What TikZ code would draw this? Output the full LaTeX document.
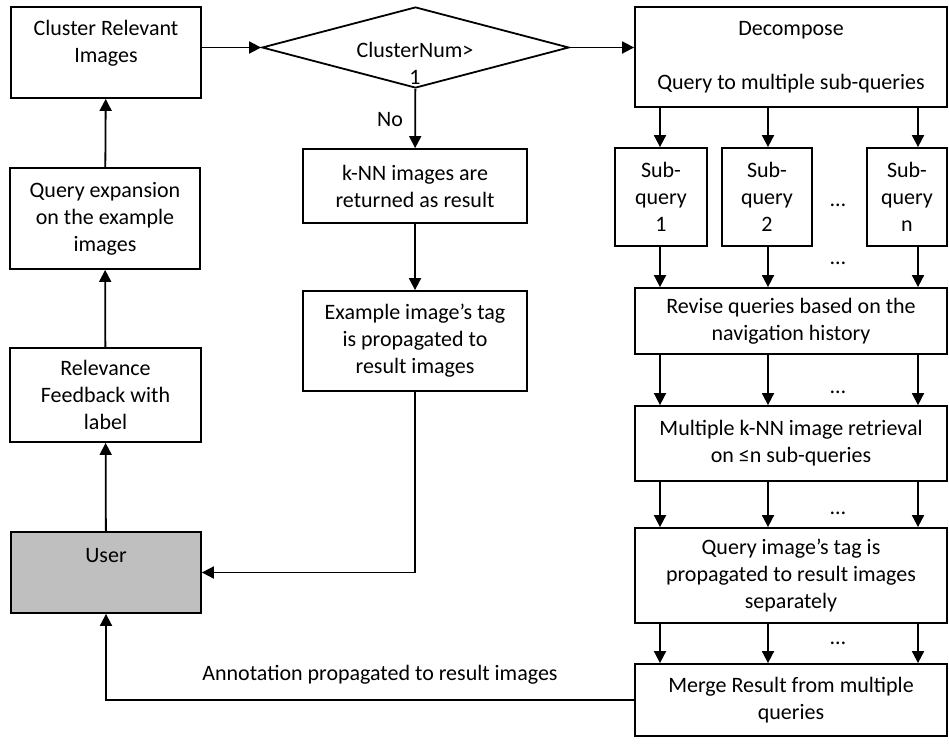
\documentclass[tikz,border=0pt]{standalone}
\usepackage{fontspec}
\setmainfont{Carlito}
\usetikzlibrary{arrows.meta,shapes.geometric}

\begin{document}
\begin{tikzpicture}[x=1pt,y=-1pt,line width=1.8pt,
        >={Triangle[length=12pt,width=12pt]},
        font=\fontsize{22}{27}\selectfont]
            \useasboundingbox (0,0) rectangle (949,747);
            \coordinate (c1) at (660,0);
            \coordinate (c2) at (768,0);
            \coordinate (c3) at (918,0);

            \begin{scope}[every node/.style={rectangle,draw,align=center,inner sep=0pt}]
                \node (cluster) [minimum width=190pt,minimum height=91pt] at (106,52.5) {};
                \node (expand) [minimum width=190pt,minimum height=101pt] at (105,218.5) {Query expansion\\on the example\\images};
                \node (feedback) [minimum width=191pt,minimum height=94pt] at (105.5,395) {Relevance\\Feedback with\\label};
                \node (user) [minimum width=190pt,minimum height=81pt,fill={rgb,255:red,191;green,191;blue,191}] at (106,572.5) {};
                \node (decision)[diamond,minimum width=307pt,minimum height=81pt] at (415.5,47.5) {};
                \node (knn) [minimum width=224pt,minimum height=74pt] at (415,186) {k-NN images are\\returned as result};
                \node (example) [minimum width=224pt,minimum height=100pt] at (415,341) {Example image’s tag\\is propagated to\\result images};
                \node (decompose) [minimum width=312pt,minimum height=100pt] at (791,57) {Decompose\\[27pt]Query to multiple sub-queries};
                \node (sub1) [minimum width=92pt,minimum height=98pt] at (661,197) {Sub-\\query\\1};
                \node (sub2) [minimum width=90pt,minimum height=98pt] at (767,197) {Sub-\\query\\2};
                \node (subn) [minimum width=80pt,minimum height=98pt] at (907,197) {Sub-\\query\\n};
                \node (revise) [minimum width=312pt,minimum height=66pt] at (791,321) {Revise queries based on the\\navigation history};
                \node (multi) [minimum width=312pt,minimum height=75pt] at (791,443.5) {Multiple k-NN image retrieval\\on ≤n sub-queries};
                \node (tagq) [minimum width=312pt,minimum height=95pt] at (791,575.5) {Query image’s tag is\\propagated to result images\\separately};
                \node (merge) [minimum width=312pt,minimum height=72pt] at (791,700) {Merge Result from multiple\\queries};
            \end{scope}

            \begin{scope}[every node/.style={align=center}]
                \node (clustertext) at (106,43.5) {Cluster Relevant\\Images};
                \node (usertext) at (106,556) {User};
                \node (decisiontext) at (415,63.5) {ClusterNum>\\1};
                \node (no) at (390,120) {No};
                \node (annot) at (380,675) {Annotation propagated to result images};
                \node (dots1) at (838,205) {…};
                \node (dots2) at (838,263) {…};
                \node (dots3) at (838,392) {…};
                \node (dots4) at (838,513) {…};
                \node (dots5) at (838,643) {…};
            \end{scope}

            \begin{scope}
                \path [->] (user) edge node {} (feedback);
                \path [->] (feedback) edge node {} (expand);
                \path [->] (expand) edge node {} (cluster);
                \path [->] (cluster.east |- decision.west) edge node {} (decision.west);
                \path [->] (decision.east) edge node {} (decision.east -| decompose.west);
                \path [->] (decision) edge node {} (knn);
                \path [->] (knn) edge node {} (example);
                \draw [->] (example) |- (user);
                \draw [->] (merge.west) -| (user);
                \foreach \c/\s in {c1/sub1,c2/sub2,c3/subn}
                {
                    \path [->] (\c |- decompose.south) edge node {} (\c |- \s.north);
                    \path [->] (\c |- \s.south) edge node {} (\c |- revise.north);
                }
                \foreach \u/\l in {revise/multi,multi/tagq,tagq/merge}
                    \foreach \c in {c1,c2,c3}
                        \path [->] (\c |- \u.south) edge node {} (\c |- \l.north);
            \end{scope}
            \end{tikzpicture}
\end{document}
